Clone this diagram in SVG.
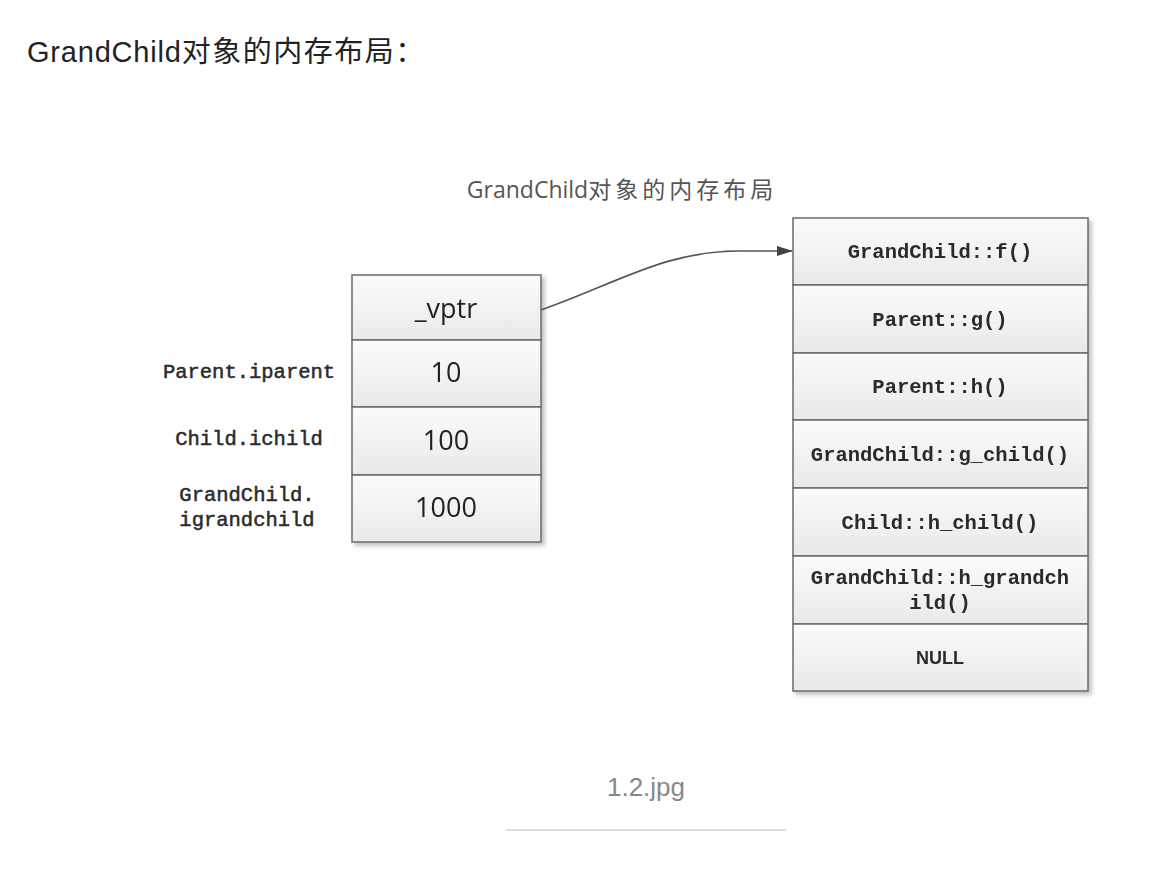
<svg xmlns="http://www.w3.org/2000/svg" width="1158" height="890" viewBox="0 0 1158 890">
<style>
.cell{fill:url(#g);stroke:#6b6b6b;stroke-width:1.5}
.mono{font-family:"Liberation Mono","Courier New",monospace;font-size:20.5px;font-weight:bold;fill:#2a2a2a;text-anchor:middle}
.lab{font-family:"Liberation Mono","Courier New",monospace;font-size:20.5px;fill:#2a2a2a;stroke:#2a2a2a;stroke-width:0.5;text-anchor:middle}
.num{font-family:"Open Sans","DejaVu Sans",sans-serif;font-size:27px;fill:#222;text-anchor:middle}
</style>
<defs>
<linearGradient id="g" x1="0" y1="0" x2="0" y2="1">
<stop offset="0" stop-color="#fbfbfb"/>
<stop offset="1" stop-color="#e9e9e9"/>
</linearGradient>
<filter id="sh" x="-10%" y="-10%" width="130%" height="130%">
<feDropShadow dx="3" dy="3" stdDeviation="2" flood-color="#000" flood-opacity="0.25"/>
</filter>
<marker id="ar" markerWidth="16" markerHeight="10" refX="15" refY="5" orient="auto" markerUnits="userSpaceOnUse">
<path d="M0,0 L16,5 L0,10 z" fill="#444"/>
</marker>
</defs>
<rect width="1158" height="890" fill="#fff"/>
<text x="27" y="62" font-family="'Liberation Sans','Noto Sans CJK SC',sans-serif" font-size="29" fill="#222"><tspan letter-spacing="0.8">GrandChild</tspan><tspan letter-spacing="1.5">对象的内存布局：</tspan></text>
<text x="622" y="198" font-family="'Open Sans','Noto Sans CJK SC',sans-serif" font-size="23" fill="#555" text-anchor="middle"><tspan>GrandChild</tspan><tspan font-size="23" letter-spacing="4">对象的内存布局</tspan></text>

<g id="object" filter="url(#sh)">
<g id="vptr"><rect class="cell" x="352" y="275" width="189" height="65"/><text class="num" x="446" y="318">_vptr</text></g>
<g id="iparent"><rect class="cell" x="352" y="340" width="189" height="67"/><text class="num" x="446" y="382">10</text></g>
<g id="ichild"><rect class="cell" x="352" y="407" width="189" height="68"/><text class="num" x="446" y="450">100</text></g>
<g id="igrandchild"><rect class="cell" x="352" y="475" width="189" height="67"/><text class="num" x="446" y="517">1000</text></g>
</g>
<g id="labels">
<text class="lab" x="249" y="378">Parent.iparent</text>
<text class="lab" x="249" y="445">Child.ichild</text>
<text class="lab" x="247" y="501">GrandChild.</text>
<text class="lab" x="247" y="526">igrandchild</text>
</g>

<g id="vtable" filter="url(#sh)">
<g id="f"><rect class="cell" x="793" y="218" width="295" height="67"/><text class="mono" x="940" y="258">GrandChild::f()</text></g>
<g id="g1"><rect class="cell" x="793" y="285" width="295" height="68"/><text class="mono" x="940" y="326">Parent::g()</text></g>
<g id="h"><rect class="cell" x="793" y="353" width="295" height="67"/><text class="mono" x="940" y="393">Parent::h()</text></g>
<g id="gchild"><rect class="cell" x="793" y="420" width="295" height="68"/><text class="mono" x="940" y="461">GrandChild::g_child()</text></g>
<g id="hchild"><rect class="cell" x="793" y="488" width="295" height="68"/><text class="mono" x="940" y="529">Child::h_child()</text></g>
<g id="hgrandchild"><rect class="cell" x="793" y="556" width="295" height="68"/><text class="mono" x="940" y="584">GrandChild::h_grandch</text><text class="mono" x="940" y="609">ild()</text></g>
<g id="null"><rect class="cell" x="793" y="624" width="295" height="67"/><text x="940" y="664" font-family="'Liberation Sans',Arial,sans-serif" font-size="18" font-weight="bold" fill="#2a2a2a" text-anchor="middle">NULL</text></g>
</g>

<g id="connectors">
<path d="M541,310 C620,282 665,251 740,251 L792,251" fill="none" stroke="#555" stroke-width="1.6" marker-end="url(#ar)"/>
</g>

<text x="646" y="796" font-family="'Liberation Sans',Arial,sans-serif" font-size="26" fill="#888" text-anchor="middle">1.2.jpg</text>
<line x1="506" y1="830" x2="786" y2="830" stroke="#ddd" stroke-width="2"/>
</svg>
